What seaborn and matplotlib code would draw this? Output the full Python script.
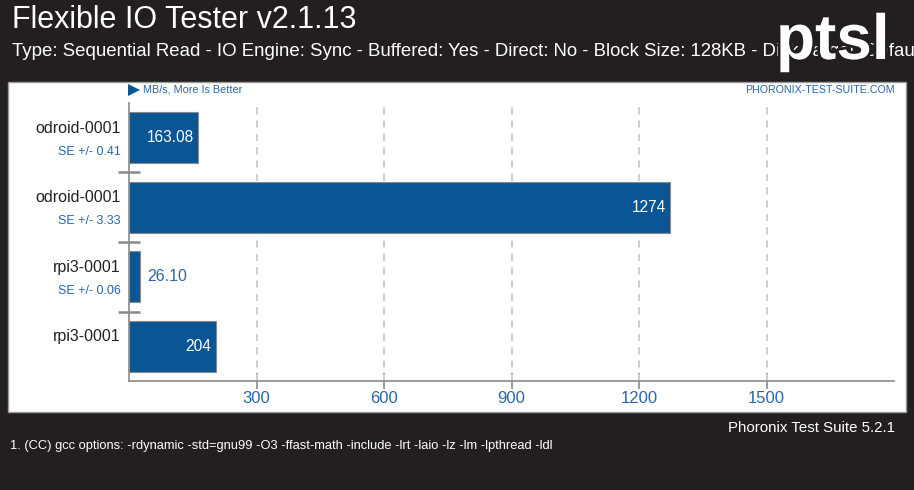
import matplotlib
matplotlib.use("Agg")
import matplotlib.pyplot as plt
import seaborn as sns
import pandas as pd
from matplotlib import font_manager
from matplotlib import patheffects as pe
from matplotlib.patches import Rectangle, Polygon
from matplotlib.transforms import blended_transform_factory

# ---- data ----
systems = ["odroid-0001", "odroid-0001", "rpi3-0001", "rpi3-0001"]
values = [163.08, 1274, 26.10, 204]
value_labels = ["163.08", "1274", "26.10", "204"]
se_labels = ["SE +/- 0.41", "SE +/- 3.33", "SE +/- 0.06", ""]
x_ticks = [300, 600, 900, 1200, 1500]

title = "Flexible IO Tester v2.1.13"
subtitle = ("Type: Sequential Read - IO Engine: Sync - Buffered: Yes - Direct: No - "
            "Block Size: 128KB - Disk Target: Default Test Directory")
unit_label = "MB/s, More Is Better"
site_label = "PHORONIX-TEST-SUITE.COM"
version_label = "Phoronix Test Suite 5.2.1"
note_label = "1. (CC) gcc options: -rdynamic -std=gnu99 -O3 -ffast-math -include -lrt -laio -lz -lm -lpthread -ldl"

sns.set_theme(style="white")
avail = {f.name for f in font_manager.fontManager.ttflist}
narrow = "Liberation Sans Narrow" if "Liberation Sans Narrow" in avail else "Liberation Sans"
plt.rcParams["font.family"] = [narrow, "DejaVu Sans"]

BG = "#231f20"
BLUE = "#0a5593"
TBLUE = "#2a66a8"

fig = plt.figure(figsize=(9.14, 4.90), dpi=100)
fig.patch.set_facecolor(BG)
W, H = 914, 490

def fx(px):
    return px / W

def fy(py):
    return 1 - py / H

# white panel (behind the axes)
fig.patches.append(Rectangle((fx(8), fy(412)), fx(898), 330 / H, transform=fig.transFigure,
                             facecolor="white", edgecolor="#9a9a9a", lw=1.0, zorder=-5))

ax = fig.add_axes([fx(129), fy(381), fx(894) - fx(129), (381 - 103) / H])
ax.set_facecolor("none")
ax.set_zorder(1)

df = pd.DataFrame({"slot": [str(i) for i in range(len(values))], "value": values})
sns.barplot(data=df, x="value", y="slot", orient="h", color=BLUE, saturation=1,
            width=0.73, edgecolor="#8a8a8a", linewidth=0.8, ax=ax, zorder=3)
ax.set_xlim(0, 1800)
ax.set_ylim(3.5, -0.5)
ax.set_xlabel("")
ax.set_ylabel("")
for s in ["top", "right"]:
    ax.spines[s].set_visible(False)
for s in ["left", "bottom"]:
    ax.spines[s].set_color("#8a8a8a")
    ax.spines[s].set_linewidth(1.2)

ax.set_xticks(x_ticks)
ax.set_xticklabels([str(t) for t in x_ticks], color=TBLUE, fontsize=12)
ax.tick_params(axis="x", direction="inout", length=12, width=1.2, color="#8a8a8a", pad=1, bottom=True)
for t in x_ticks:
    ax.axvline(t, color="#cfcfcf", lw=1.5, ls=(0, (3.4, 3.0)), zorder=1)

ax.set_yticks([0.5, 1.5, 2.5])
ax.set_yticklabels([])
ax.tick_params(axis="y", direction="inout", length=16, width=1.8, color="#8a8a8a", left=True)

trans = blended_transform_factory(fig.transFigure, ax.transData)
for i, (sysname, val, vl, se) in enumerate(zip(systems, values, value_labels, se_labels)):
    ax.text(fx(121), i - 0.14, sysname, transform=trans, ha="right", va="center",
            fontsize=11.5, color="#222222")
    if se:
        ax.text(fx(121), i + 0.2, se, transform=trans, ha="right", va="center",
                fontsize=9, color=TBLUE)
    if val > 100:
        ax.text(val - 11, i, vl, ha="right", va="center", fontsize=11.2, color="white", zorder=5)
    else:
        ax.text(val + 16, i, vl, ha="left", va="center", fontsize=11.5, color=TBLUE, zorder=5)

# header texts
fig.text(fx(12), fy(20), title, color="white", fontsize=22, ha="left", va="center")
fig.text(fx(12), fy(51), subtitle, color="white", fontsize=13.4, ha="left", va="center")
fig.text(fx(776), fy(59), "ptsl", color="white", fontsize=46, fontweight="bold",
         ha="left", va="baseline", zorder=5,
         path_effects=[pe.withStroke(linewidth=4, foreground=BG)])

# panel captions
fig.patches.append(Polygon([[fx(128), fy(84)], [fx(128), fy(96)], [fx(140), fy(90)]],
                           closed=True, transform=fig.transFigure, facecolor=BLUE,
                           edgecolor="none", zorder=3))
fig.text(fx(143), fy(90), unit_label, color=TBLUE, fontsize=7.8, ha="left", va="center")
fig.text(fx(895), fy(90), site_label, color=TBLUE, fontsize=7.7, ha="right", va="center")

# footer
fig.text(fx(895), fy(428), version_label, color="white", fontsize=10.8, ha="right", va="center")
fig.text(fx(10), fy(446), note_label, color="white", fontsize=9.3, ha="left", va="center")

fig.savefig("out.png", dpi=100, facecolor=BG)
